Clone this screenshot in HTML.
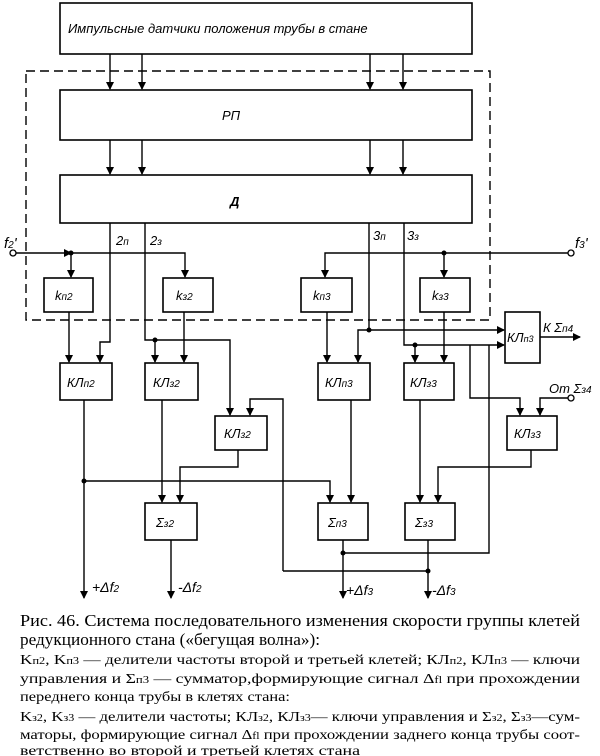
<!DOCTYPE html>
<html><head><meta charset="utf-8"><style>
html,body{margin:0;padding:0;background:#fff;width:600px;height:756px;overflow:hidden}
svg{display:block}
.l{stroke:#000;stroke-width:1.4;fill:none}
.b{stroke:#000;stroke-width:1.6;fill:#fff}
.t{font-family:"Liberation Sans",sans-serif;font-style:italic;font-size:13px}
.c{font-family:"Liberation Serif",serif;font-size:14px}
</style></head><body>
<svg width="600" height="756" viewBox="0 0 600 756">
<defs><marker id="a" markerWidth="8" markerHeight="10" refX="7" refY="4" orient="auto" markerUnits="userSpaceOnUse"><path d="M0,0 L8,4 L0,8 z" fill="#000"/></marker></defs>
<rect x="26" y="71" width="464" height="249" fill="none" stroke="#000" stroke-width="1.4" stroke-dasharray="9,5"/>
<rect class="b" x="60" y="3" width="412" height="51"/>
<text class="t" x="68" y="33">Импульсные датчики положения трубы в стане</text>
<rect class="b" x="60" y="90" width="412" height="50"/>
<text class="t" x="222" y="120">РП</text>
<rect class="b" x="60" y="175" width="412" height="48"/>
<text class="t" x="230" y="206" font-weight="bold">Д</text>
<g class="l" marker-end="url(#a)">
<path d="M110 54V89"/><path d="M142 54V89"/><path d="M370 54V89"/><path d="M403 54V89"/>
<path d="M110 140V174"/><path d="M142 140V174"/><path d="M370 140V174"/><path d="M403 140V174"/>
<path d="M71 253V277"/><path d="M71 253H185V277"/>
<path d="M16 253H71"/>
<path d="M69 312V362"/><path d="M184 312V362"/>
<path d="M110 223V342H100V362"/>
<path d="M145 223V340H155V362"/>
<path d="M155 340H230V415"/>
<path d="M283 571V399H250V415"/>
<path d="M238 450V467H180V502"/>
<path d="M162 400V502"/>
<path d="M84 400V598"/>
<path d="M171 540V598"/>
<path d="M84 481H330V502"/>
<path d="M568 253H325V277"/><path d="M444 253V277"/>
<path d="M327 312V362"/><path d="M444 312V362"/>
<path d="M369 223V330H358V362"/>
<path d="M369 330H504"/>
<path d="M404 223V345H415V362"/>
<path d="M415 345H504"/>
<path d="M470 345V398H520V415"/>
<path d="M568 398H540V415"/>
<path d="M531 450V467H438V502"/>
<path d="M420 400V502"/>
<path d="M351 400V502"/>
<path d="M343 540V598"/>
<path d="M428 540V598"/>
<path d="M540 337H580"/>
</g>
<path class="l" d="M343 553H489V345"/>
<path class="l" d="M283 571H428"/>
<g fill="#000"><circle cx="71" cy="253" r="2.5"/><circle cx="155" cy="340" r="2.5"/><circle cx="84" cy="481" r="2.5"/><circle cx="444" cy="253" r="2.5"/><circle cx="369" cy="330" r="2.5"/><circle cx="415" cy="345" r="2.5"/><circle cx="343" cy="553" r="2.5"/><circle cx="428" cy="571" r="2.5"/></g>
<g fill="#fff" stroke="#000" stroke-width="1.3"><circle cx="13" cy="253" r="3"/><circle cx="571" cy="253" r="3"/><circle cx="571" cy="398" r="3"/></g>
<rect class="b" x="44" y="278" width="49" height="34"/><text class="t" x="55" y="300">k<tspan font-size="10">п2</tspan></text>
<rect class="b" x="163" y="278" width="50" height="34"/><text class="t" x="176" y="300">k<tspan font-size="10">з2</tspan></text>
<rect class="b" x="301" y="278" width="51" height="34"/><text class="t" x="313" y="300">k<tspan font-size="10">п3</tspan></text>
<rect class="b" x="420" y="278" width="50" height="34"/><text class="t" x="432" y="300">k<tspan font-size="10">з3</tspan></text>
<rect class="b" x="60" y="363" width="52" height="37"/><text class="t" x="67" y="387">КЛ<tspan font-size="10">п2</tspan></text>
<rect class="b" x="145" y="363" width="53" height="37"/><text class="t" x="153" y="387">КЛ<tspan font-size="10">з2</tspan></text>
<rect class="b" x="215" y="416" width="52" height="34"/><text class="t" x="224" y="438">КЛ<tspan font-size="10">з2</tspan></text>
<rect class="b" x="318" y="363" width="52" height="37"/><text class="t" x="325" y="387">КЛ<tspan font-size="10">п3</tspan></text>
<rect class="b" x="404" y="363" width="50" height="37"/><text class="t" x="410" y="387">КЛ<tspan font-size="10">з3</tspan></text>
<rect class="b" x="507" y="416" width="50" height="34"/><text class="t" x="514" y="438">КЛ<tspan font-size="10">з3</tspan></text>
<rect class="b" x="505" y="312" width="35" height="51"/><text class="t" x="507" y="342" font-size="12">КЛ<tspan font-size="9">п3</tspan></text>
<rect class="b" x="145" y="503" width="52" height="37"/><text class="t" x="156" y="527">Σ<tspan font-size="10">з2</tspan></text>
<rect class="b" x="318" y="503" width="50" height="37"/><text class="t" x="328" y="527">Σ<tspan font-size="10">п3</tspan></text>
<rect class="b" x="405" y="503" width="50" height="37"/><text class="t" x="415" y="527">Σ<tspan font-size="10">з3</tspan></text>
<g class="t">
<text x="4" y="248" font-size="15">f<tspan font-size="10">2</tspan>'</text>
<text x="575" y="248" font-size="15">f<tspan font-size="10">3</tspan>'</text>
<text x="116" y="245">2<tspan font-size="10">п</tspan></text>
<text x="150" y="245">2<tspan font-size="10">з</tspan></text>
<text x="373" y="240">3<tspan font-size="10">п</tspan></text>
<text x="407" y="240">3<tspan font-size="10">з</tspan></text>
<text x="543" y="332">К Σ<tspan font-size="10">п4</tspan></text>
<text x="549" y="393">От Σ<tspan font-size="10">з4</tspan></text>
<text x="92" y="592" font-size="14">+Δf<tspan font-size="10">2</tspan></text>
<text x="178" y="592" font-size="14">-Δf<tspan font-size="10">2</tspan></text>
<text x="346" y="595" font-size="14">+Δf<tspan font-size="10">3</tspan></text>
<text x="432" y="595" font-size="14">-Δf<tspan font-size="10">3</tspan></text>
</g>
<g class="c">
<text x="20" y="626" font-size="17" textLength="560" lengthAdjust="spacingAndGlyphs">Рис. 46. Система последовательного изменения скорости группы клетей</text>
<text x="20" y="645" font-size="17" textLength="300" lengthAdjust="spacingAndGlyphs">редукционного стана («бегущая волна»):</text>
<text x="20" y="664" textLength="560" lengthAdjust="spacingAndGlyphs">K<tspan font-size="10">п2</tspan>, K<tspan font-size="10">п3</tspan> — делители частоты второй и третьей клетей; КЛ<tspan font-size="10">п2</tspan>, КЛ<tspan font-size="10">п3</tspan> — ключи</text>
<text x="20" y="683" textLength="560" lengthAdjust="spacingAndGlyphs">управления и Σ<tspan font-size="10">п3</tspan> — сумматор,формирующие сигнал Δ<tspan font-size="10">fl</tspan> при прохождении</text>
<text x="20" y="701" textLength="270" lengthAdjust="spacingAndGlyphs">переднего конца трубы в клетях стана:</text>
<text x="20" y="721" textLength="560" lengthAdjust="spacingAndGlyphs">K<tspan font-size="10">з2</tspan>, K<tspan font-size="10">з3</tspan> — делители частоты; КЛ<tspan font-size="10">з2</tspan>, КЛ<tspan font-size="10">з3</tspan>— ключи управления и Σ<tspan font-size="10">з2</tspan>, Σ<tspan font-size="10">з3</tspan>—сум-</text>
<text x="20" y="739" textLength="560" lengthAdjust="spacingAndGlyphs">маторы, формирующие сигнал Δ<tspan font-size="10">fl</tspan> при прохождении заднего конца трубы соот-</text>
<text x="20" y="755" textLength="340" lengthAdjust="spacingAndGlyphs">ветственно во второй и третьей клетях стана</text>
</g>
</svg>
</body></html>
